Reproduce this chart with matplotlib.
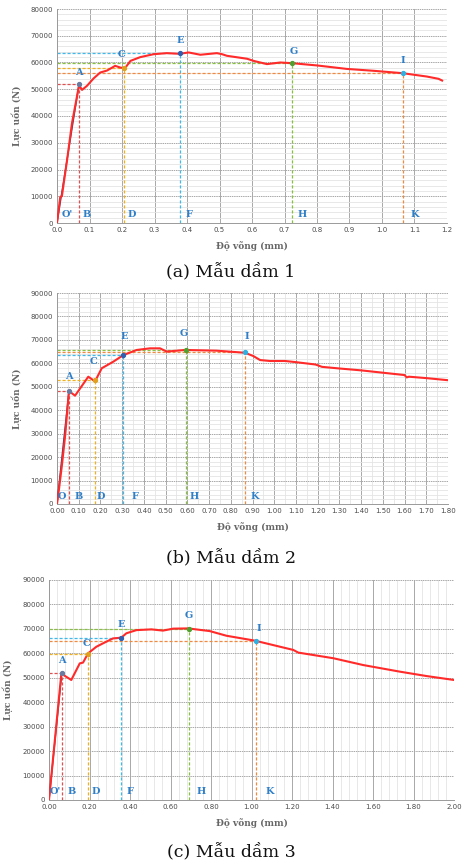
import numpy as np
import matplotlib.pyplot as plt
from matplotlib.ticker import MultipleLocator, FormatStrFormatter

# ---- data ----
x1 = [0, 0.010, 0.015, 0.031, 0.046, 0.068, 0.077, 0.092, 0.113, 0.133, 0.154, 0.179, 0.195,
      0.205, 0.213, 0.226, 0.256, 0.297, 0.338, 0.377, 0.405, 0.441, 0.492, 0.508, 0.523,
      0.585, 0.605, 0.646, 0.687, 0.723, 0.800, 0.892, 0.974, 1.064, 1.138, 1.174, 1.185]
y1 = [0, 9750, 10000, 23500, 37250, 51600, 49750, 51250, 54100, 56250, 57000, 58750, 58100,
      57900, 58500, 60600, 62000, 63100, 63500, 63250, 63750, 62900, 63500, 63100, 62500,
      61400, 60600, 59400, 60000, 59750, 58900, 57600, 56900, 56000, 54750, 53900, 53250]

x2 = [0, 0.010, 0.023, 0.038, 0.055, 0.083, 0.144, 0.175, 0.206, 0.259, 0.305, 0.367, 0.428,
      0.474, 0.505, 0.589, 0.735, 0.866, 0.904, 0.935, 0.980, 1.05, 1.10, 1.19, 1.22, 1.30,
      1.40, 1.50, 1.60, 1.61, 1.62, 1.70, 1.80]
y2 = [0, 7000, 16800, 29600, 48200, 46200, 54300, 52300, 57900, 60700, 63500, 65700, 66400,
      66400, 65000, 65700, 65400, 64500, 63100, 61400, 61000, 61000, 60500, 59500, 58500,
      57800, 57000, 56000, 55000, 54000, 54300, 53700, 52800]

x3 = [0, 0.061, 0.110, 0.152, 0.168, 0.193, 0.234, 0.267, 0.316, 0.357, 0.382, 0.432, 0.506,
      0.563, 0.613, 0.687, 0.794, 0.876, 1.016, 1.206, 1.231, 1.404, 1.552, 1.733, 1.865, 2.0]
y3 = [0, 51700, 49100, 55900, 56200, 60000, 62700, 64100, 66100, 66400, 68200, 69500, 69800,
      69300, 70100, 70200, 69100, 67200, 65200, 61400, 60300, 58000, 55200, 52500, 50700, 49100]

# key points A, C, E, G, I  (x, y)
pts1 = [(0.068, 52000), (0.205, 57900), (0.377, 63400), (0.723, 59900), (1.064, 56000)]
pts2 = [(0.055, 48100), (0.175, 52700), (0.305, 63600), (0.592, 65800), (0.866, 65000)]
pts3 = [(0.063, 51800), (0.195, 59800), (0.358, 66400), (0.690, 70100), (1.020, 65000)]

top_names = ["A", "C", "E", "G", "I"]
bot_names = ["O'", "B", "D", "F", "H", "K"]

pt_colors = ["#e05050", "#f0b020", "#40b8e8", "#88c040", "#f08a40"]
dot_colors = ["#6a7aa0", "#e0a020", "#3060b0", "#50a030", "#30b0e0"]
lbl_blue = "#2f7fc8"

panels = [
    dict(x=x1, y=y1, pts=pts1, xmax=1.2, ymax=80000, xmaj=0.1, xmin=None, ymin=2000,
         fmt="%.1f", rect=(57, 9, 447, 223), ylx=17, cap="(a) Mẫu dầm 1", capy=272,
         bot_x=[0.033, 0.092, 0.229, 0.405, 0.754, 1.10],
         top_off=[(0, 2500), (-0.005, 3400), (0.003, 3300), (0.005, 2600), (0.001, 3100)],
         bot_names=bot_names),
    dict(x=x2, y=y2, pts=pts2, xmax=1.8, ymax=90000, xmaj=0.1, xmin=0.05, ymin=2000,
         fmt="%.2f", rect=(57, 293, 448, 504), ylx=17, cap="(b) Mẫu dầm 2", capy=558,
         bot_x=[0.02, 0.10, 0.20, 0.36, 0.63, 0.91],
         top_off=[(0.0, 4500), (-0.005, 6000), (0.005, 6000), (-0.01, 5000), (0.009, 4400)],
         bot_names=["O", "B", "D", "F", "H", "K"]),
    dict(x=x3, y=y3, pts=pts3, xmax=2.0, ymax=90000, xmaj=0.2, xmin=0.04, ymin=None,
         fmt="%.2f", rect=(49, 580, 454, 800), ylx=8, cap="(c) Mẫu dầm 3", capy=852,
         bot_x=[0.03, 0.11, 0.23, 0.40, 0.75, 1.09],
         top_off=[(0.0, 3300), (-0.012, 2300), (0.0, 3700), (0.0, 3500), (0.015, 3500)],
         bot_names=bot_names),
]

W, H = 462, 867
fig = plt.figure(figsize=(W / 100, H / 100), dpi=100)

for p in panels:
    l, t, r, b = p["rect"]
    ax = fig.add_axes([l / W, 1 - b / H, (r - l) / W, (b - t) / H])
    ax.set_xlim(0, p["xmax"])
    ax.set_ylim(0, p["ymax"])
    ax.xaxis.set_major_locator(MultipleLocator(p["xmaj"]))
    ax.xaxis.set_major_formatter(FormatStrFormatter(p["fmt"]))
    ax.yaxis.set_major_locator(MultipleLocator(10000))
    if p["xmin"]:
        ax.xaxis.set_minor_locator(MultipleLocator(p["xmin"]))
        ax.grid(True, which="minor", axis="x", color="#e4e4e4", lw=0.6)
    if p["ymin"]:
        ax.yaxis.set_minor_locator(MultipleLocator(p["ymin"]))
        ax.grid(True, which="minor", axis="y", color="#e4e4e4", lw=0.6)
    ax.grid(True, which="major", axis="x", color="#a8a8a8", lw=0.7)
    ax.grid(True, which="major", axis="y", color="#a8a8a8", lw=0.7, ls=(0, (1.5, 0.8)))
    ax.tick_params(which="both", length=0, labelsize=5, labelcolor="#4a4a4a", pad=3)
    for s in ax.spines.values():
        s.set_visible(False)
    ax.spines["left"].set_visible(True)
    ax.spines["bottom"].set_visible(True)
    ax.spines["left"].set_color("#9a9a9a")
    ax.spines["bottom"].set_color("#9a9a9a")
    ax.spines["left"].set_linewidth(0.7)
    ax.spines["bottom"].set_linewidth(0.7)
    ax.set_axisbelow(True)

    # reference lines
    for (px, py), c in zip(p["pts"], pt_colors):
        ax.plot([0, px], [py, py], ls=(0, (2.5, 1.5)), color=c, lw=0.9, zorder=2)
        ax.plot([px, px], [0, py], ls=(0, (2.5, 1.5)), color=c, lw=0.9, zorder=2)

    # curve
    ax.plot([0, p["pts"][0][0]], [0, p["pts"][0][1]], color="#3a3a6a", lw=1.0, zorder=3)
    ax.plot(p["x"], p["y"], color="#ff2a2a", lw=1.5, zorder=4)
    for (px, py), c in zip(p["pts"], dot_colors):
        ax.plot(px, py, "o", ms=2.8, color=c, zorder=5)

    for (px, py), (dx, dy), n in zip(p["pts"], p["top_off"], top_names):
        ax.text(px + dx, py + dy, n, color=lbl_blue, fontsize=7, fontweight="bold",
                family="DejaVu Serif", ha="center", va="bottom", zorder=6)
    for bx, n in zip(p["bot_x"], p["bot_names"]):
        ax.text(bx, 3300, n, color=lbl_blue, fontsize=7, fontweight="bold",
                family="DejaVu Serif", ha="center", va="center", zorder=6)

    ax.set_xlabel("Độ võng (mm)", fontsize=6.5, color="#666666", family="DejaVu Serif",
                  fontweight="bold", labelpad=6)
    fig.text(p["ylx"] / W, 1 - (t + b) / 2 / H, "Lực uốn (N)", rotation=90, fontsize=6.5,
             color="#666666", family="DejaVu Serif", fontweight="bold",
             ha="center", va="center")
    fig.text(0.5, 1 - p["capy"] / H, p["cap"], fontsize=12.5, family="DejaVu Serif",
             color="#111111", ha="center", va="center")

fig.savefig("out.png", dpi=100, facecolor="white")
